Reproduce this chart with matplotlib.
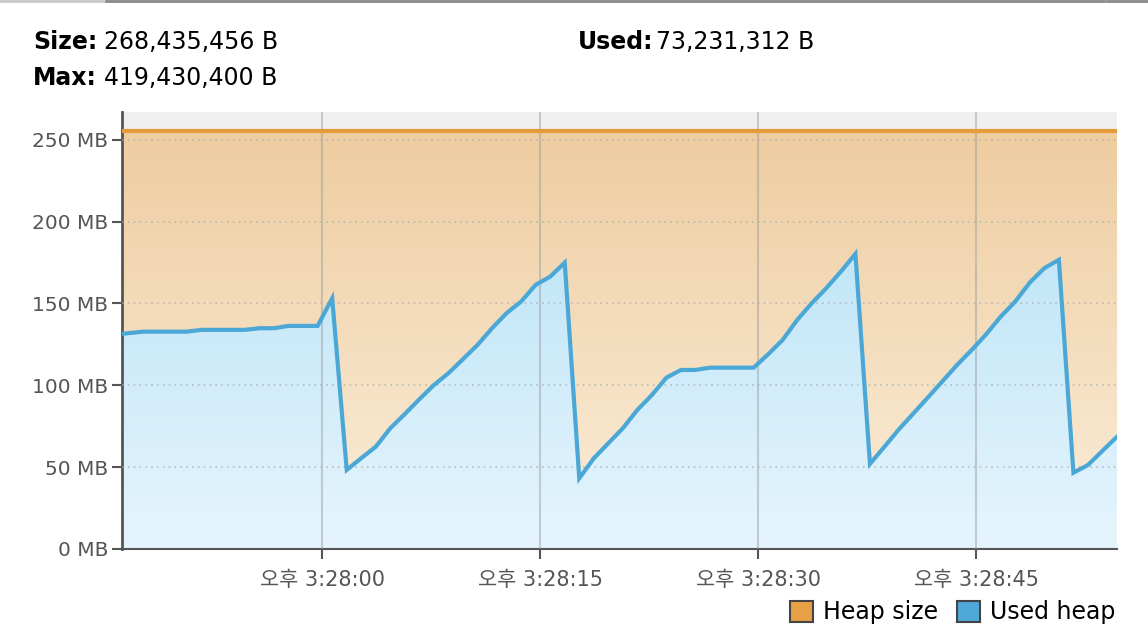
import matplotlib
matplotlib.use("Agg")
from matplotlib import pyplot as plt
from matplotlib.colors import LinearSegmentedColormap
from matplotlib.patches import Patch
import numpy as np

plt.rcParams['font.family'] = ['DejaVu Sans', 'Noto Sans CJK KR']

# seconds relative to 3:28:00 PM, one sample per second
times = [k + 0.7 for k in range(-15, 55)]
usedHeap = [130.9, 131.9, 132.8, 132.8, 132.8, 132.8, 133.9, 133.9, 133.9, 133.9,
            134.9, 134.9, 136.3, 136.3, 136.3, 153.2, 48.3, 55.5, 62.5, 73.8,
            82.5, 91.5, 100.2, 107.4, 116.0, 124.7, 134.9, 144.1, 151.2, 161.4,
            166.4, 175.0, 43.2, 55.4, 64.6, 73.8, 85.0, 94.1, 104.7, 109.4,
            109.4, 110.8, 110.8, 110.8, 110.8, 119.0, 127.8, 140.0, 150.2, 159.4,
            169.5, 180.3, 52.0, 62.5, 73.2, 82.9, 92.7, 102.6, 112.5, 121.6,
            131.2, 142.0, 151.2, 162.8, 171.6, 176.7, 46.6, 51.3, 60.0, 68.6]
heapSize = [255.5] * len(times)

xTicks = [0, 15, 30, 45]
xLabels = ["오후 3:28:00", "오후 3:28:15", "오후 3:28:30", "오후 3:28:45"]
yTicks = [0, 50, 100, 150, 200, 250]
yLabels = [f"{v} MB" for v in yTicks]

xmin, xmax = -13.76, 54.7
ymax = 267

fig = plt.figure(figsize=(11.48, 6.4), dpi=100)
ax = fig.add_axes([0.1063, 0.1422, 0.9730 - 0.1063, 0.825 - 0.1422])
ax.set_facecolor("#efefef")

# orange gradient under heap size
orange = LinearSegmentedColormap.from_list("o", ["#fbeedb", "#eecda0"])
grad = np.linspace(0, 1, 256).reshape(-1, 1)
ax.imshow(grad, extent=[xmin, xmax, 0, 255.5], origin="lower", aspect="auto",
          cmap=orange, zorder=1)

# blue gradient under used heap
blue = LinearSegmentedColormap.from_list("b", ["#e6f5fd", "#bfe5f8"])
poly = ax.fill_between(times, usedHeap, 0, facecolor="none", edgecolor="none")
im = ax.imshow(grad, extent=[xmin, xmax, 0, 190], origin="lower", aspect="auto",
               cmap=blue, zorder=2)
im.set_clip_path(poly.get_paths()[0], transform=ax.transData)

ax.plot(times, heapSize, color="#e59a3c", lw=3, zorder=4)
ax.plot(times, usedHeap, color="#4ba8d6", lw=3, zorder=5, solid_joinstyle="miter")

for t in xTicks:
    ax.axvline(t, color="#999999", lw=1.5, alpha=0.45, zorder=3)
for v in yTicks[1:]:
    ax.axhline(v, color="#aaaaaa", lw=1.2, ls=(0, (1, 2.5)), alpha=0.7, zorder=3)

ax.set_xlim(xmin, xmax)
ax.set_ylim(0, ymax)
ax.set_xticks(xTicks)
ax.set_xticklabels(xLabels)
ax.set_yticks(yTicks)
ax.set_yticklabels(yLabels)
ax.tick_params(axis="both", colors="#555555", labelsize=14.5, length=7, width=1.5,
               direction="out")
ax.tick_params(axis="x", pad=8, labelsize=15)
ax.tick_params(axis="y", pad=3)
for s in ["top", "right"]:
    ax.spines[s].set_visible(False)
ax.spines["left"].set_color("#555555")
ax.spines["left"].set_linewidth(2)
ax.spines["bottom"].set_color("#555555")
ax.spines["bottom"].set_linewidth(1.5)

# header texts
fs = 17
fig.text(0.0287, 0.934, "Size:", fontsize=fs, fontweight="bold", va="center")
fig.text(0.0906, 0.934, "268,435,456 B", fontsize=fs, va="center")
fig.text(0.5035, 0.934, "Used:", fontsize=fs, fontweight="bold", va="center")
fig.text(0.5714, 0.934, "73,231,312 B", fontsize=fs, va="center")
fig.text(0.0287, 0.878, "Max:", fontsize=fs, fontweight="bold", va="center")
fig.text(0.0906, 0.878, "419,430,400 B", fontsize=fs, va="center")

# top tab border
fig.add_artist(plt.Line2D([0, 0.09], [0.999, 0.999], color="#c8c8c8", lw=2))
fig.add_artist(plt.Line2D([0.092, 0.236], [0.999, 0.999], color="#888888", lw=2))
fig.add_artist(plt.Line2D([0.238, 0.962], [0.999, 0.999], color="#888888", lw=2))
fig.add_artist(plt.Line2D([0.964, 1.0], [0.999, 0.999], color="#888888", lw=2))

handles = [Patch(facecolor="#e8a045", edgecolor="#444444", lw=1.5, label="Heap size"),
           Patch(facecolor="#4ea8d8", edgecolor="#444444", lw=1.5, label="Used heap")]
fig.legend(handles=handles, loc="center right", bbox_to_anchor=(0.990, 0.043),
           ncol=2, frameon=False, handlelength=1.0, handleheight=1.0,
           handletextpad=0.4, columnspacing=0.8, fontsize=17)

fig.savefig("out.png", dpi=100)
